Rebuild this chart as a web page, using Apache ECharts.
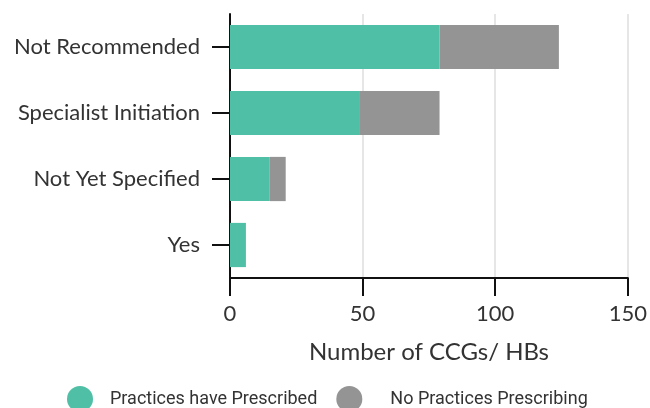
<!DOCTYPE html>
<html>
<head>
<meta charset="utf-8">
<script src="https://cdn.jsdelivr.net/npm/echarts@6/dist/echarts.min.js"></script>
<style>html,body{margin:0;padding:0;background:#fff}#c{width:650px;height:408px}</style>
</head>
<body>
<div id="c"></div>
<script>
const categories = ['Not Recommended', 'Specialist Initiation', 'Not Yet Specified', 'Yes'];
const prescribed = [79, 49, 15, 6];
const notPrescribing = [45, 30, 6, 0];
const xTicks = [0, 50, 100, 150];
const seriesNames = ['Practices have Prescribed', 'No Practices Prescribing'];
const colors = ['#4FBFA5', '#949494'];

const chart = echarts.init(document.getElementById('c'));
chart.setOption({
  animation: false,
  grid: { left: 230, right: 21, top: 14, bottom: 130, containLabel: false },
  legend: {
    left: 62, top: 381,
    icon: 'circle', itemWidth: 26, itemHeight: 26, itemGap: 19,
    textStyle: { fontFamily: 'Roboto', fontSize: 18, color: '#333' },
    data: [
      { name: seriesNames[0], textStyle: { padding: [0, 0, 0, 12] } },
      { name: seriesNames[1], textStyle: { padding: [0, 0, 0, 23] } }
    ]
  },
  xAxis: {
    type: 'value', min: xTicks[0], max: xTicks[xTicks.length - 1], interval: 50,
    name: 'Number of CCGs/ HBs', nameLocation: 'middle', nameGap: 62,
    nameTextStyle: { fontFamily: 'Lato', fontSize: 24, color: '#333' },
    axisLine: { show: true, lineStyle: { color: '#111', width: 2 } },
    axisTick: { show: true, length: 18, lineStyle: { color: '#111', width: 2 } },
    axisLabel: { fontFamily: 'Lato', fontSize: 22, color: '#333', margin: 25 },
    splitLine: { show: true, lineStyle: { color: '#e6e6e6', width: 2 } }
  },
  yAxis: {
    type: 'category', inverse: true, data: categories,
    axisLine: { show: true, lineStyle: { color: '#111', width: 2 } },
    axisTick: { show: true, alignWithLabel: true, length: 18, lineStyle: { color: '#111', width: 2 } },
    axisLabel: { fontFamily: 'Lato', fontSize: 22, color: '#333', margin: 30 },
    splitLine: { show: false }
  },
  series: [
    { name: seriesNames[0], type: 'bar', stack: 'a', data: prescribed, barCategoryGap: '33%', itemStyle: { color: colors[0] } },
    { name: seriesNames[1], type: 'bar', stack: 'a', data: notPrescribing, itemStyle: { color: colors[1] } }
  ]
});
</script>
</body>
</html>
